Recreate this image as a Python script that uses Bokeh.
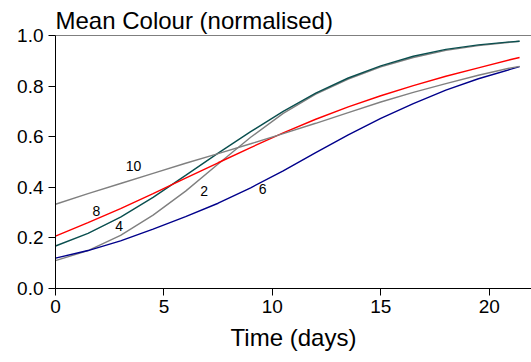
from bokeh.plotting import figure
from bokeh.models import Range1d, FixedTicker, NumeralTickFormatter, Span, Label
from bokeh.embed import file_html
from bokeh.resources import INLINE

# ---- data ----
time_days = [0, 1.5, 3, 4.5, 6, 7.5, 9, 10.5, 12, 13.5, 15, 16.5, 18, 19.5, 21, 21.4]

series_2 = [0.110, 0.150, 0.210, 0.290, 0.385, 0.492, 0.598, 0.692, 0.768, 0.828, 0.876, 0.913, 0.941, 0.960, 0.974, 0.977]
series_4 = [0.168, 0.218, 0.282, 0.360, 0.447, 0.535, 0.620, 0.700, 0.772, 0.832, 0.880, 0.918, 0.945, 0.963, 0.975, 0.977]
series_6 = [0.120, 0.150, 0.188, 0.235, 0.284, 0.337, 0.398, 0.465, 0.537, 0.607, 0.672, 0.731, 0.784, 0.829, 0.867, 0.877]
series_8 = [0.207, 0.260, 0.316, 0.375, 0.436, 0.497, 0.557, 0.615, 0.669, 0.718, 0.762, 0.802, 0.839, 0.872, 0.905, 0.913]
series_10 = [0.333, 0.375, 0.415, 0.455, 0.495, 0.533, 0.572, 0.612, 0.653, 0.695, 0.737, 0.775, 0.810, 0.843, 0.872, 0.878]

series_colors = {"2": "#808080", "4": "#0A4F4F", "6": "#00008B", "8": "#FF0000", "10": "#808080"}

label_text = ["10", "8", "4", "2", "6"]
label_t = [3.6, 1.88, 2.94, 6.86, 9.55]
label_v = [0.485, 0.307, 0.248, 0.386, 0.393]

x_ticks = [0, 5, 10, 15, 20]
y_ticks = [0.0, 0.2, 0.4, 0.6, 0.8, 1.0]

FONT = "Liberation Sans"

p = figure(width=531, height=362, output_backend="svg", toolbar_location=None,
           x_range=Range1d(0, 21.95), y_range=Range1d(0, 1),
           min_border_left=55, min_border_right=0, min_border_top=35, min_border_bottom=74,
           title="Mean Colour (normalised)")
p.outline_line_color = None
p.xgrid.visible = False
p.ygrid.visible = False
p.background_fill_color = "white"
p.border_fill_color = "white"

p.title.align = "left"
p.title.text_font = FONT
p.title.text_font_size = "24px"
p.title.text_font_style = "normal"
p.title.text_color = "black"
p.title.standoff = 3
p.title.offset = 0

for key, vals in [("2", series_2), ("4", series_4), ("6", series_6), ("8", series_8), ("10", series_10)]:
    p.line(time_days, vals, line_color=series_colors[key], line_width=1.4)

for txt, t, v in zip(label_text, label_t, label_v):
    p.add_layout(Label(x=t, y=v, text=txt, text_align="center", text_baseline="middle",
                       text_font=FONT, text_font_size="14px", text_color="black"))

p.add_layout(Span(location=1.0, dimension="width", line_color="black", line_width=1))

for ax in (p.xaxis[0], p.yaxis[0]):
    ax.axis_line_color = "black"
    ax.major_tick_line_color = "black"
    ax.minor_tick_line_color = None
    ax.major_tick_in = 0
    ax.major_tick_out = 7
    ax.major_label_text_font = FONT
    ax.major_label_text_font_size = "19px"
    ax.major_label_text_color = "black"

p.xaxis.ticker = FixedTicker(ticks=x_ticks)
p.yaxis.ticker = FixedTicker(ticks=y_ticks)
p.yaxis.formatter = NumeralTickFormatter(format="0.0")
p.xaxis.major_label_standoff = 4
p.yaxis.major_label_standoff = 5
p.xaxis.axis_label = "Time (days)"
p.xaxis.axis_label_text_font = FONT
p.xaxis.axis_label_text_font_size = "24px"
p.xaxis.axis_label_text_font_style = "normal"
p.xaxis.axis_label_text_color = "black"
p.xaxis.axis_label_standoff = 8

open("out.html", "w").write(file_html(p, INLINE))
